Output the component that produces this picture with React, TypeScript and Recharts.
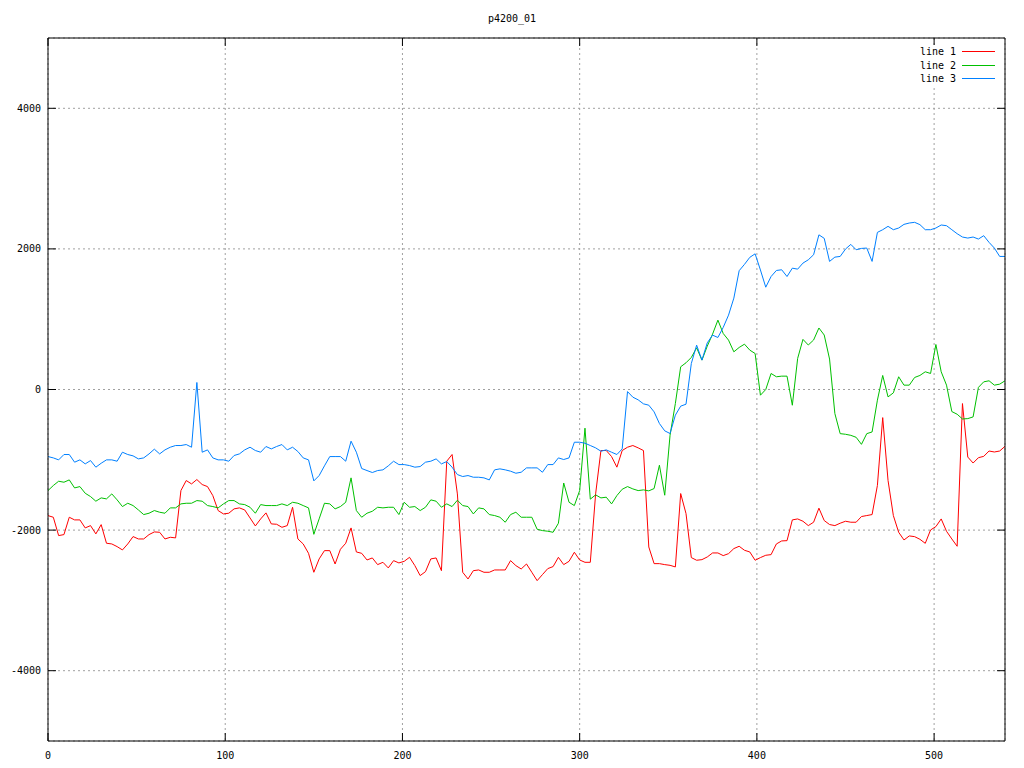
import { LineChart, Line, XAxis, YAxis, CartesianGrid } from "recharts";

// samples taken every 3 units along x (0..540)
const X_STEP = 3;

const line1 = [
  -1794, -1817, -2078, -2064, -1817, -1855, -1855, -1969, -1936, -2054, -1922, -2187, -2197, -2235, -2282, -2197, -2092, -2126, -2126, -2064, -2026, -2031, -2126,
  -2102, -2111, -1438, -1295, -1343, -1281, -1352, -1381, -1509, -1722, -1770, -1760, -1698, -1684, -1713, -1827, -1941, -1841, -1755, -1912, -1917, -1960, -1936,
  -1675, -2126, -2197, -2330, -2600, -2410, -2292, -2292, -2482, -2273, -2187, -1969, -2311, -2330, -2425, -2396, -2491, -2458, -2538, -2434, -2467, -2444,
  -2387, -2505, -2647, -2591, -2410, -2396, -2577, -1020, -925, -1485, -2600, -2695, -2577, -2567, -2600, -2600, -2567, -2567, -2567, -2434, -2505, -2553, -2482,
  -2600, -2719, -2633, -2548, -2519, -2387, -2491, -2444, -2315, -2425, -2458, -2458, -1485, -868, -868, -954, -1105, -868, -821, -797, -830, -868,
  -2240, -2477, -2477, -2491, -2501, -2524, -1480, -1765, -2391, -2429, -2420, -2382, -2325, -2325, -2363, -2335, -2263, -2230, -2287, -2311, -2429, -2391, -2358,
  -2349, -2197, -2154, -2150, -1855, -1841, -1874, -1936, -1888, -1688, -1864, -1921, -1936, -1902, -1874, -1888, -1888, -1807, -1793, -1779, -1365, -400,
  -1294, -1793, -2031, -2140, -2083, -2093, -2131, -2188, -1998, -1950, -1841, -2017, -2126, -2230, -200, -961, -1046, -970, -951, -875, -889, -875, -808,
];

const line2 = [
  -1438, -1366, -1305, -1319, -1286, -1400, -1381, -1476, -1523, -1589, -1542, -1556, -1485, -1570, -1665, -1618, -1651, -1713, -1779, -1760, -1722, -1746, -1760,
  -1684, -1684, -1627, -1618, -1618, -1580, -1589, -1651, -1665, -1684, -1627, -1580, -1580, -1627, -1637, -1675, -1760, -1637, -1651, -1651, -1651, -1627, -1651,
  -1604, -1618, -1651, -1684, -2060, -1840, -1618, -1627, -1698, -1665, -1604, -1257, -1722, -1817, -1760, -1732, -1675, -1684, -1675, -1675, -1779, -1604,
  -1675, -1665, -1722, -1675, -1570, -1589, -1675, -1627, -1665, -1575, -1651, -1665, -1770, -1684, -1698, -1779, -1793, -1817, -1888, -1779, -1746, -1817, -1817,
  -1817, -1988, -2007, -2016, -2031, -1903, -1330, -1604, -1651, -1438, -550, -1560, -1499, -1542, -1532, -1627, -1509, -1419, -1381, -1414, -1438, -1428,
  -1442, -1409, -1077, -1504, -650, -199, 323, 380, 456, 593, 418, 617, 788, 987, 797, 702, 536, 598, 645, 560, 512, -81, 0,
  228, 181, 190, 190, -224, 442, 713, 633, 704, 875, 775, 433, -342, -628, -637, -652, -680, -780, -628, -604, -152, 200,
  -105, -48, 181, 62, 62, 171, 200, 252, 228, 640, 252, 62, -314, -352, -419, -414, -390, 30, 109, 124, 62, 76, 124,
];

const line3 = [
  -954, -973, -1001, -925, -925, -1034, -1001, -1058, -1011, -1105, -1049, -1001, -1001, -1020, -892, -925, -944, -987, -973, -916, -849, -916, -859,
  -821, -797, -797, -783, -821, 100, -892, -859, -973, -1001, -1001, -1020, -939, -916, -859, -821, -868, -892, -811, -845, -811, -783, -859,
  -821, -882, -973, -1001, -1300, -1224, -1086, -954, -954, -954, -1020, -735, -892, -1124, -1153, -1181, -1153, -1143, -1086, -1020, -1068, -1068,
  -1082, -1105, -1096, -1034, -1020, -987, -1058, -1025, -1105, -1210, -1238, -1224, -1248, -1248, -1257, -1286, -1143, -1129, -1143, -1162, -1191, -1177, -1115,
  -1115, -1115, -1177, -1068, -1068, -973, -996, -973, -750, -750, -764, -797, -830, -878, -859, -892, -925, -845, -30, -109, -147, -204,
  -223, -318, -484, -588, -626, -365, -237, -209, 370, 631, 418, 664, 773, 740, 883, 1058, 1300, 1690, 1780, 1880, 1930, 1700, 1455,
  1607, 1693, 1703, 1607, 1726, 1712, 1798, 1845, 1917, 2200, 2150, 1822, 1883, 1893, 1998, 2064, 1988, 2007, 2012, 1822, 2235, 2273,
  2321, 2273, 2297, 2349, 2368, 2378, 2345, 2273, 2273, 2297, 2340, 2330, 2273, 2216, 2169, 2154, 2169, 2140, 2188, 2093, 2012, 1893, 1893,
];

const xTicks = [0, 100, 200, 300, 400, 500];
const yTicks = [-4000, -2000, 0, 2000, 4000];

const W = 1024;
const H = 768;
const PL = 48;
const PR = 1005;
const PT = 38;
const PB = 741;
const TICK = 8;
const FONT = "'DejaVu Sans Mono', monospace";

const data = line1.map((v, i) => ({
  x: i * X_STEP,
  line1: v,
  line2: line2[i],
  line3: line3[i],
}));

const legendItems = [
  { label: "line 1", color: "#ff0000" },
  { label: "line 2", color: "#00c000" },
  { label: "line 3", color: "#0080ff" },
];

function LeftTick(props: any) {
  const { y, payload } = props;
  return (
    <g>
      <line x1={PL} x2={PL + TICK} y1={y} y2={y} stroke="#000" />
      <text x={41} y={y} textAnchor="end" dominantBaseline="central" fontSize={10} fontFamily={FONT} fill="#000">
        {payload.value}
      </text>
    </g>
  );
}

function RightTick(props: any) {
  const { y } = props;
  return <line x1={PR} x2={PR - TICK} y1={y} y2={y} stroke="#000" />;
}

function BottomTick(props: any) {
  const { x, payload } = props;
  return (
    <g>
      <line x1={x} x2={x} y1={PB} y2={PB - TICK} stroke="#000" />
      <text x={x} y={755} textAnchor="middle" dominantBaseline="central" fontSize={10} fontFamily={FONT} fill="#000">
        {payload.value}
      </text>
    </g>
  );
}

function TopTick(props: any) {
  const { x } = props;
  return <line x1={x} x2={x} y1={PT} y2={PT + TICK} stroke="#000" />;
}

export default function App() {
  return (
    <div style={{ position: "absolute", left: 0, top: 0, width: W, height: H, background: "#fff" }}>
      <LineChart width={W} height={H} data={data} margin={{ top: 0, right: 0, bottom: 0, left: 0 }}>
        <CartesianGrid xAxisId="bottom" yAxisId="left" stroke="#a0a0a0" strokeDasharray="2 3" />
        <XAxis
          xAxisId="bottom"
          dataKey="x"
          type="number"
          domain={[0, 540]}
          ticks={xTicks}
          height={PB === 741 ? H - PB : 27}
          axisLine={{ stroke: "#000" }}
          tickLine={false}
          tick={<BottomTick />}
          allowDataOverflow
        />
        <XAxis
          xAxisId="top"
          orientation="top"
          dataKey="x"
          type="number"
          domain={[0, 540]}
          ticks={xTicks}
          height={PT}
          axisLine={{ stroke: "#000" }}
          tickLine={false}
          tick={<TopTick />}
          allowDataOverflow
        />
        <YAxis
          yAxisId="left"
          type="number"
          domain={[-5000, 5000]}
          ticks={yTicks}
          width={PL}
          axisLine={{ stroke: "#000" }}
          tickLine={false}
          tick={<LeftTick />}
          allowDataOverflow
        />
        <YAxis
          yAxisId="right"
          orientation="right"
          type="number"
          domain={[-5000, 5000]}
          ticks={yTicks}
          width={W - PR}
          axisLine={{ stroke: "#000" }}
          tickLine={false}
          tick={<RightTick />}
          allowDataOverflow
        />
        <Line xAxisId="bottom" yAxisId="left" type="linear" dataKey="line1" stroke="#ff0000" strokeWidth={1} dot={false} isAnimationActive={false} />
        <Line xAxisId="bottom" yAxisId="left" type="linear" dataKey="line2" stroke="#00c000" strokeWidth={1} dot={false} isAnimationActive={false} />
        <Line xAxisId="bottom" yAxisId="left" type="linear" dataKey="line3" stroke="#0080ff" strokeWidth={1} dot={false} isAnimationActive={false} />
      </LineChart>
      <div
        style={{
          position: "absolute",
          left: 0,
          top: 12,
          width: W,
          textAlign: "center",
          fontFamily: FONT,
          fontSize: 10,
          lineHeight: "14px",
          color: "#000",
        }}
      >
        p4200_01
      </div>
      <div
        style={{
          position: "absolute",
          left: 914,
          top: 45,
          width: 86,
          background: "#fff",
          fontFamily: FONT,
          fontSize: 10,
          color: "#000",
        }}
      >
        {legendItems.map((it) => (
          <div key={it.label} style={{ display: "flex", alignItems: "center", height: 13.5, whiteSpace: "pre" }}>
            <span style={{ width: 42, textAlign: "right", lineHeight: "13px" }}>{it.label}</span>
            <span style={{ display: "inline-block", marginLeft: 6, width: 33, height: 1, background: it.color }} />
          </div>
        ))}
      </div>
    </div>
  );
}
